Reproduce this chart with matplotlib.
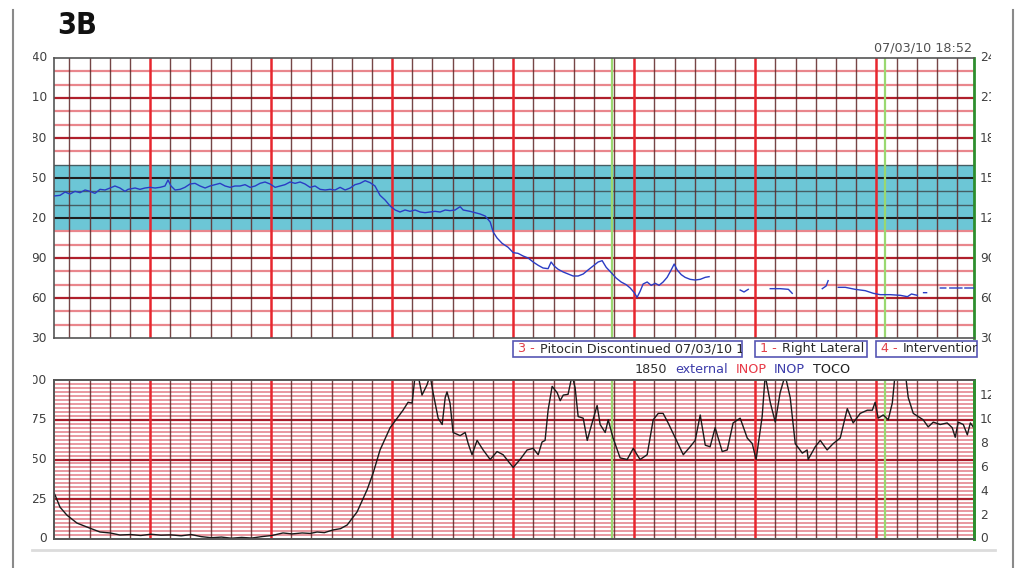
import numpy as np
import matplotlib.pyplot as plt
from matplotlib.transforms import Bbox, TransformedBbox
from matplotlib.patches import Rectangle
from matplotlib.lines import Line2D

# ---- data (time in minutes from start of strip) ----
fhr_t = [0.00, 0.30, 0.55, 0.79, 1.04, 1.29, 1.54, 1.78, 2.03, 2.28, 2.53, 2.78, 3.02, 3.27,
         3.52, 3.67, 4.02, 4.26, 4.51, 4.76, 5.01, 5.26, 5.50, 5.65, 5.80, 6.00, 6.25, 6.49,
         6.74, 6.99, 7.24, 7.49, 7.73, 7.98, 8.23, 8.48, 8.73, 8.97, 9.22, 9.47, 9.72, 9.97,
         10.21, 10.46, 10.71, 10.96, 11.20, 11.45, 11.70, 11.95, 12.20, 12.44, 12.69, 12.94,
         13.19, 13.44, 13.68, 13.93, 14.18, 14.43, 14.68, 14.92, 15.17, 15.42, 15.67, 15.91,
         16.16, 16.41, 16.66, 16.91, 17.15, 17.40, 17.65, 17.90, 18.15, 18.39, 18.64, 18.89,
         19.14, 19.39, 19.63, 19.88, 20.13, 20.28, 20.62, 20.87, 21.12, 21.37, 21.62, 21.77,
         21.96, 22.21, 22.51, 22.76, 23.00, 23.25, 23.50, 23.75, 24.00, 24.24, 24.49, 24.64,
         24.79, 24.99, 25.24, 25.48, 25.73, 25.98, 26.23, 26.47, 26.72, 26.97, 27.17, 27.37,
         27.62, 27.86, 28.11, 28.36, 28.56, 28.76, 28.90, 29.05, 29.20, 29.40, 29.60, 29.80,
         29.99, 30.19, 30.39, 30.59, 30.74, 30.89, 31.09, 31.28, 31.53, 31.78, 32.03, 32.28,
         32.47, np.nan,
         34.01, 34.20, 34.41, np.nan,
         35.50, 36.00, 36.40, 36.59, np.nan,
         38.08, 38.27, 38.37, np.nan,
         38.87, 39.22, 39.71, 40.21, 40.61, 40.95, 41.45, 41.95, 42.30, 42.50, 42.79, np.nan,
         43.10, 43.25, np.nan,
         43.93, 44.20, np.nan, 44.40, 45.00, np.nan, 45.15, 45.56]
fhr_bpm = [136.5, 137, 139.5, 138, 140, 139, 141, 140, 138.5, 141.5, 141, 142.5, 144, 142.5,
           140, 141.5, 142.5, 141.5, 142.5, 143, 142.5, 143, 144, 148.5, 144, 141, 141.5, 143,
           145.5, 146, 144, 142.5, 144, 145, 146, 144, 143, 144, 144, 145, 143, 144,
           146, 147, 145.5, 143, 144, 145, 147, 146, 147, 145.5, 143, 144,
           141.5, 141, 141.5, 141, 143, 141, 142.5, 145, 146, 148, 146.5, 144,
           137, 133.5, 129, 126, 124.5, 126, 125, 126, 124.5, 124, 124.5, 125,
           124.5, 126, 125.5, 126, 128.5, 126, 125, 124, 123, 121.5, 117, 109.5,
           105, 101, 98, 94, 93.5, 91.5, 90, 87, 84.5, 82.5, 82, 87,
           84, 81.5, 79.5, 78, 76.5, 76.5, 78, 81, 84, 87, 88, 83,
           79, 75, 72, 70, 67.5, 64, 60.5, 65, 70.5, 72, 69.5, 71,
           69.5, 72, 75.5, 81, 85.5, 81, 77.5, 75.5, 74, 73.5, 74, 75.5,
           76, np.nan,
           66, 64.5, 66.5, np.nan,
           67, 67, 66.5, 63.5, np.nan,
           67, 69, 73, np.nan,
           68, 68, 66.5, 65.5, 63.5, 62.5, 62.5, 62, 61, 63, 62, np.nan,
           64, 64, np.nan,
           67.5, 67.5, np.nan, 67.5, 67.5, np.nan, 67.5, 67.5]

ua_t = [0.00, 0.05, 0.30, 0.64, 1.14, 1.64, 2.28, 2.78, 3.27, 3.8, 4.3, 4.8, 5.3, 5.8, 6.3,
        6.8, 7.3, 7.8, 8.3, 8.8, 9.3, 9.8, 10.3, 10.8, 11.35, 11.8, 12.3, 12.7, 13.04, 13.4,
        13.83, 14.2, 14.53, 15.02, 15.52, 15.82, 16.16, 16.66, 17.01, 17.30, 17.55, 17.75,
        17.90, 18.05, 18.24, 18.49, 18.64, 18.79, 19.04, 19.24, 19.39, 19.48, 19.63, 19.78,
        20.13, 20.38, 20.53, 20.72, 20.97, 21.27, 21.62, 21.96, 22.26, 22.76, 23.10, 23.45,
        23.75, 24.00, 24.19, 24.34, 24.49, 24.69, 24.94, 25.09, 25.24, 25.48, 25.68, 25.83,
        25.98, 26.23, 26.43, 26.57, 26.92, 27.07, 27.32, 27.47, 27.71, 28.06, 28.41, 28.71,
        28.90, 29.05, 29.40, 29.70, 29.95, 30.19, 30.44, 30.89, 31.19, 31.53, 31.78, 32.03,
        32.28, 32.52, 32.77, 33.12, 33.37, 33.66, 34.01, 34.36, 34.61, 34.80, 35.10, 35.25,
        35.50, 35.75, 35.99, 36.24, 36.49, 36.74, 37.09, 37.33, 37.38, 37.73, 37.98, 38.32,
        38.62, 38.97, 39.32, 39.61, 39.96, 40.31, 40.56, 40.70, 40.85, 41.10, 41.35, 41.55,
        41.70, 42.19, 42.34, 42.59, 43.08, 43.33, 43.58, 43.93, 44.27, 44.52, 44.67, 44.82,
        45.07, 45.27, 45.42, 45.56]
ua_val = [29, 27.7, 20, 15, 10, 7.5, 4.4, 3.8, 2.5, 2.8, 2.2, 3.0, 2.4, 2.6, 2.0,
          2.8, 1.5, 0.8, 1.2, 0.5, 1.0, 0.6, 1.5, 2.2, 3.8, 3.2, 3.8, 3.5, 4.4, 4.0,
          5.7, 6.5, 8.8, 17, 31, 41.5, 56, 70, 76, 81, 86, 85.5,
          103, 103, 90.5, 97, 103, 92, 76, 72, 89, 92.5, 85.5, 67,
          65, 67, 60, 53, 62, 56, 50, 55, 53, 45, 50, 56,
          57, 53, 61, 62, 81, 96, 92, 87, 90.5, 91, 103, 95,
          77, 76, 62, 68.5, 84, 72, 67, 75, 63.5, 51, 50, 57,
          53, 50, 53, 75, 79, 79, 73, 61, 53, 58, 62, 78,
          59, 58, 70, 55, 56, 73, 76, 63.5, 60, 50, 77, 103,
          86, 73.5, 92, 103, 89, 60, 54, 56, 50, 58, 62, 56,
          60, 63.5, 82, 73, 79, 81, 81, 86, 76, 78, 75, 85.5,
          105, 105, 89, 79, 75, 70.5, 73.5, 72, 73, 70, 64, 73.5,
          72, 65.5, 73, 70.5]

fhr_ticks = [30, 60, 90, 120, 150, 180, 210, 240]
ua_ticks = [0, 25, 50, 75, 100]
kpa_ticks = [0, 2, 4, 6, 8, 10, 12]
event_green = [27.67, 41.2]
notes = [(22.76, 11.35, '3', 'Pitocin Discontinued 07/03/10 1'),
         (34.76, 5.55, '1', 'Right Lateral'),
         (40.76, 5.00, '4', 'Intervention')]
stamp = '07/03/10 18:52'

W, H = 1018, 568
fig = plt.figure(figsize=(W / 100, H / 100), dpi=100)
ax1 = fig.add_axes([54 / W, 1 - 338 / H, 920 / W, 280 / H])
ax2 = fig.add_axes([54 / W, 1 - 539 / H, 920 / W, 159 / H])
t_end = 45.6

lbl_col = '#404040'
fs = 9.2
clip_left = TransformedBbox(Bbox.from_extents(33 / W, 0, 0.5, 1), fig.transFigure)
clip_right = TransformedBbox(Bbox.from_extents(0.5, 0, 991 / W, 1), fig.transFigure)


def vgrid(ax):
    n = 0
    while 0.76 + n < t_end:
        t = 0.76 + n
        if (n - 4) % 6 == 0:
            ax.axvline(t, color='#e8262e', lw=1.8, zorder=1.6)
        else:
            ax.axvline(t, color='#5e2626', lw=1.0, alpha=0.85, zorder=1.5)
        n += 1
    for t in event_green:
        ax.axvline(t, color='#9ad870', lw=1.6, zorder=1.7)


def side_labels(ax, ticks, labels, right=False):
    for v, s in zip(ticks, labels):
        if right:
            txt = ax.text(1 + 6 / 920, v, s, transform=ax.get_yaxis_transform(),
                          ha='left', va='center', fontsize=8.8, color=lbl_col)
            txt.set_clip_box(clip_right)
        else:
            txt = ax.text(-7 / 920, v, s, transform=ax.get_yaxis_transform(),
                          ha='right', va='center', fontsize=8.8, color=lbl_col)
            txt.set_clip_box(clip_left)
        txt.set_clip_on(True)


# ---- top panel: FHR ----
ax1.set_xlim(0, t_end)
ax1.set_ylim(30, 240)
ax1.axhspan(110, 160, color='#6cc6d6', zorder=0.5, lw=0)
for v in range(40, 240, 10):
    if 120 <= v <= 160:
        if v % 30 == 0:
            ax1.axhline(v, color='#1e1e1e', lw=1.5, zorder=1)
        else:
            ax1.axhline(v, color='#3a4448', lw=1.0, alpha=0.8, zorder=1)
    elif v % 30 == 0:
        ax1.axhline(v, color='#b0202c', lw=1.6, zorder=1)
    else:
        ax1.axhline(v, color='#e9868c', lw=1.6, zorder=1)
vgrid(ax1)
ax1.plot(fhr_t, fhr_bpm, color='#2a3cc4', lw=1.0, zorder=3)
side_labels(ax1, fhr_ticks, [str(v) for v in fhr_ticks])
side_labels(ax1, fhr_ticks, [str(v) for v in fhr_ticks], right=True)
ax1.text(t_end - 0.1, 1.036, stamp, transform=ax1.get_xaxis_transform(),
         ha='right', va='center', fontsize=fs, color='#505050')

for t0, wd, num, msg in notes:
    box = Rectangle((t0, -0.068), wd, 0.058, transform=ax1.get_xaxis_transform(),
                    facecolor='white', edgecolor='#5656b4', lw=1.2, clip_on=False, zorder=4)
    ax1.add_patch(box)
    a = ax1.text(t0 + 0.25, -0.039, num + ' -', transform=ax1.get_xaxis_transform(),
                 ha='left', va='center', fontsize=fs, color='#e0404a', zorder=5)
    b = ax1.annotate(msg, xy=(1, 0), xycoords=a, xytext=(3.5, 0),
                     textcoords='offset points', ha='left', va='bottom',
                     fontsize=fs, color='#2a2a2a', zorder=5, annotation_clip=False)
    for tx in (a, b):
        tx.set_clip_on(True)
        tx.set_clip_path(box)

# ---- bottom panel: UA ----
ax2.set_xlim(0, t_end)
ax2.set_ylim(0, 100)
for i in range(1, 40):
    v = i * 2.5
    if v % 25 == 0:
        ax2.axhline(v, color='#a81c2a', lw=1.6, zorder=1)
    else:
        ax2.axhline(v, color='#de6e7a', lw=1.1, alpha=0.9, zorder=1)
vgrid(ax2)
ax2.plot(ua_t, ua_val, color='#1a1a1a', lw=1.0, zorder=3)
side_labels(ax2, ua_ticks, [str(v) for v in ua_ticks])
ax2r = ax2.twinx()
ax2r.set_ylim(0, 100 / 7.5)
ax2r.set_yticks([])
side_labels(ax2r, kpa_ticks, [str(v) for v in kpa_ticks], right=True)

status = [('1850', '#303030'), ('external', '#3c3caa'), ('INOP', '#e83a48'),
          ('INOP', '#3c3caa'), ('TOCO', '#202020')]
prev = None
for s, c in status:
    if prev is None:
        prev = ax2.text(28.8, 1.063, s, transform=ax2.get_xaxis_transform(),
                        ha='left', va='center', fontsize=fs, color=c)
    else:
        prev = ax2.annotate(s, xy=(1, 0), xycoords=prev, xytext=(5.5, 0),
                            textcoords='offset points', ha='left', va='bottom',
                            fontsize=fs, color=c, annotation_clip=False)

for ax in (ax1, ax2, ax2r):
    ax.set_xticks([])
    ax.set_yticks([])
    for side in ('top', 'left', 'bottom'):
        ax.spines[side].set_color('#555555')
        ax.spines[side].set_linewidth(1.2)
    ax.spines['right'].set_color('#2e8e2e')
    ax.spines['right'].set_linewidth(2)

# ---- page decoration ----
fig.text(57 / W, 1 - 26 / H, '3B', ha='left', va='center', fontsize=22, fontweight='bold',
         fontstretch='condensed', family=['Liberation Sans Narrow', 'DejaVu Sans'],
         color='#111111')
fig.add_artist(Line2D([13 / W, 13 / W], [0, 1 - 10 / H], color='#8a8a8a', lw=1.5,
                      transform=fig.transFigure))
fig.add_artist(Line2D([1013 / W, 1013 / W], [0, 1 - 10 / H], color='#8a8a8a', lw=1.5,
                      transform=fig.transFigure))
fig.add_artist(Line2D([32 / W, 995 / W], [1 - 550 / H, 1 - 550 / H], color='#dcdcdc', lw=2,
                      transform=fig.transFigure))

fig.savefig('out.png', dpi=100)
